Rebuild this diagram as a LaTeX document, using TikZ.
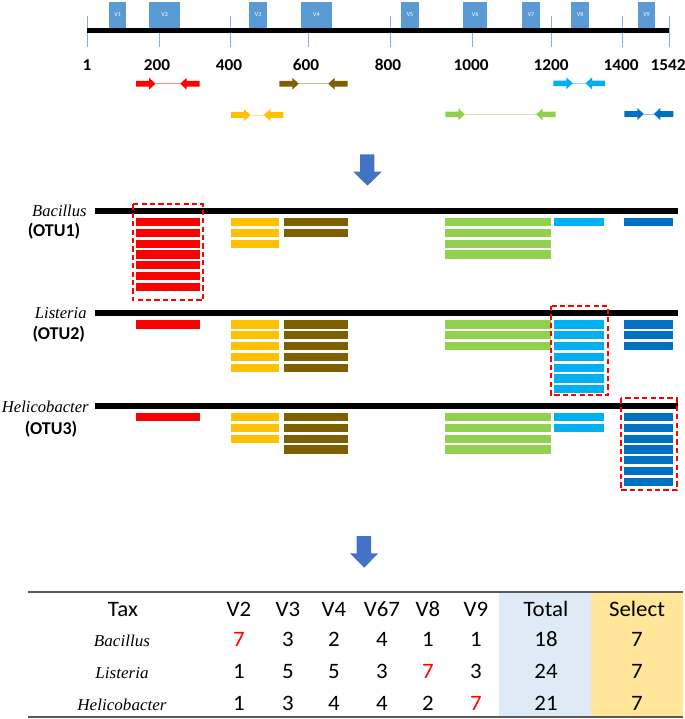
\documentclass[tikz,border=0pt]{standalone}
\usepackage{fontspec}
\setmainfont{Carlito}
\newfontfamily\widesans{Carlito}[FakeStretch=1.04]
\newfontfamily\romanit{Liberation Serif}
\newfontfamily\wideromanit{Liberation Serif}[FakeStretch=1.03]
\usepackage{tikz}
\definecolor{vbox}{RGB}{91,155,213}
\definecolor{tick}{RGB}{143,170,220}
\definecolor{rV2}{RGB}{255,0,0}
\definecolor{rV3}{RGB}{255,192,0}
\definecolor{rV4}{RGB}{127,96,0}
\definecolor{rV67}{RGB}{146,208,80}
\definecolor{rV8}{RGB}{0,176,240}
\definecolor{rV9}{RGB}{0,112,192}
\definecolor{darrow}{RGB}{68,114,196}
\definecolor{totalbg}{RGB}{222,235,247}
\definecolor{selectbg}{RGB}{255,230,153}
\definecolor{rulegray}{RGB}{89,89,89}
\newcommand{\hi}[1]{\textcolor{rV2}{#1}}
\newcommand{\primer}[4]{%
  \draw[#4!45,line width=0.4pt] (#1+19.5,#3)--(#2-19.5,#3);
  \fill[#4] (#1,#3-2.8)--(#1+13,#3-2.8)--(#1+13,#3-6)--(#1+19.5,#3)--(#1+13,#3+6)--(#1+13,#3+2.8)--(#1,#3+2.8)--cycle;
  \fill[#4] (#2,#3-2.8)--(#2-13,#3-2.8)--(#2-13,#3-6)--(#2-19.5,#3)--(#2-13,#3+6)--(#2-13,#3+2.8)--(#2,#3+2.8)--cycle;}
\newcommand{\reads}[5]{%
  \foreach \k in {1,...,#4}
    \fill[#5] (#1,{#3+7+(\k-1)*10.8}) rectangle (#2,{#3+15.2+(\k-1)*10.8});}
\tikzset{
  axlab/.style={anchor=base,font=\widesans\bfseries\fontsize{8.3}{9}\selectfont},
  vlab/.style={white,font=\fontsize{3}{3}\selectfont},
  taxon/.style={anchor=base east,inner sep=0pt,font=\romanit\itshape\fontsize{8.3}{10}\selectfont},
  otu/.style={anchor=base,font=\bfseries\fontsize{9}{10}\selectfont},
  cell/.style={anchor=base,font=\widesans\fontsize{11}{12}\selectfont},
  taxcell/.style={anchor=base,font=\wideromanit\itshape\fontsize{8.3}{10}\selectfont},
  pick/.style={rV2,line width=1.1pt,dash pattern=on 2.6pt off 1.6pt},
  genome/.style={line width=2.85pt}
}
\begin{document}
\begin{tikzpicture}[x=0.5pt,y=-0.5pt]
 \useasboundingbox (0,0) rectangle (685,719);
 \foreach \x in {87,159,230,308,390,472,551,622,669}
   \draw[tick,line width=0.4pt] (\x,16)--(\x,47);
 \foreach \a/\b/\v in {109.3/126/V1,149/180.3/V2,249.3/267/V3,300.7/332/V4,401/419/V5,463/487.3/V6,522/540/V7,571.3/589/V8,637.7/655.3/V9}{
   \fill[vbox] (\a,1.5) rectangle (\b,28.5);
   \node[vlab] (lab\v) at ({(\a+\b)/2},14.5) {\v};
 }
 \draw[genome] (87,30.5)--(669,30.5);
 \foreach \x/\p in {87/1,157/200,229/400,306/600,388/800,471/1000,551/1200,621/1400,668/1542}
   \node[axlab] (pos\p) at (\x,70.7) {\p};
 \primer{136}{199.7}{83.7}{rV2}
 \primer{279.3}{347.7}{83.7}{rV4}
 \primer{553.3}{605}{83.3}{rV8}
 \primer{231}{283.3}{115}{rV3}
 \primer{445.3}{555.7}{114.3}{rV67}
 \primer{624.3}{673.3}{114}{rV9}
 \fill[darrow] (360,154.3)--(374.3,154.3)--(374.3,171.7)--(381.7,171.7)--(367.5,185.7)--(353.3,171.7)--(360,171.7)--cycle;
 \foreach \yb/\nA/\nB/\nC/\nD/\nE/\nF in {211/7/3/2/4/1/1,313.3/1/5/5/3/7/3,406/1/3/4/4/2/7}{
   \draw[genome] (95,\yb)--(678,\yb);
   \reads{136}{200}{\yb}{\nA}{rV2}
   \reads{231}{279.3}{\yb}{\nB}{rV3}
   \reads{283.7}{347.7}{\yb}{\nC}{rV4}
   \reads{445.3}{551}{\yb}{\nD}{rV67}
   \reads{553.7}{604.3}{\yb}{\nE}{rV8}
   \reads{624}{673.3}{\yb}{\nF}{rV9}
 }
 \draw[pick] (132.7,204.3) rectangle (203.3,300.3);
 \draw[pick] (551,306) rectangle (607.7,395);
 \draw[pick] (620.7,398.3) rectangle (676.7,490);
 \node[taxon] (bac) at (87,216) {Bacillus};
 \node[otu] (otu1) at (54,236) {(OTU1)};
 \node[taxon] (lis) at (87,318.3) {Listeria};
 \node[otu] (otu2) at (58.8,339) {(OTU2)};
 \node[taxon] (hel) at (89,412.7) {Helicobacter};
 \node[otu] (otu3) at (51,434) {(OTU3)};
 \fill[darrow] (356.7,536)--(371,536)--(371,553.3)--(378.3,553.3)--(364.2,567.7)--(350,553.3)--(356.7,553.3)--cycle;
 \fill[totalbg] (499,592) rectangle (591,717);
 \fill[selectbg] (591,592) rectangle (683,717);
 \draw[rulegray,line width=1.2pt] (28,592)--(683,592);
 \draw[rulegray,line width=1.2pt] (28,717)--(683,717);
 \foreach \x/\h in {123/Tax,239/V2,288/V3,334/V4,382/V67,428/V8,476/V9,546/Total,637/Select}
   \node[cell] (head\h) at (\x,616) {\h};
 \foreach \y/\tx/\vA/\vB/\vC/\vD/\vE/\vF/\tot [count=\r] in {646.7/Bacillus/\hi{7}/3/2/4/1/1/18,678.3/Listeria/1/5/5/3/\hi{7}/3/24,710/Helicobacter/1/3/4/4/2/\hi{7}/21}{
   \node[taxcell] (name\r) at (122,\y) {\tx};
   \node[cell] (vA\r) at (239,\y) {\vA};
   \node[cell] (vB\r) at (288,\y) {\vB};
   \node[cell] (vC\r) at (334,\y) {\vC};
   \node[cell] (vD\r) at (382,\y) {\vD};
   \node[cell] (vE\r) at (428,\y) {\vE};
   \node[cell] (vF\r) at (476,\y) {\vF};
   \node[cell] (tot\r) at (546,\y) {\tot};
   \node[cell] (sel\r) at (637,\y) {7};
 }
\end{tikzpicture}
\end{document}
